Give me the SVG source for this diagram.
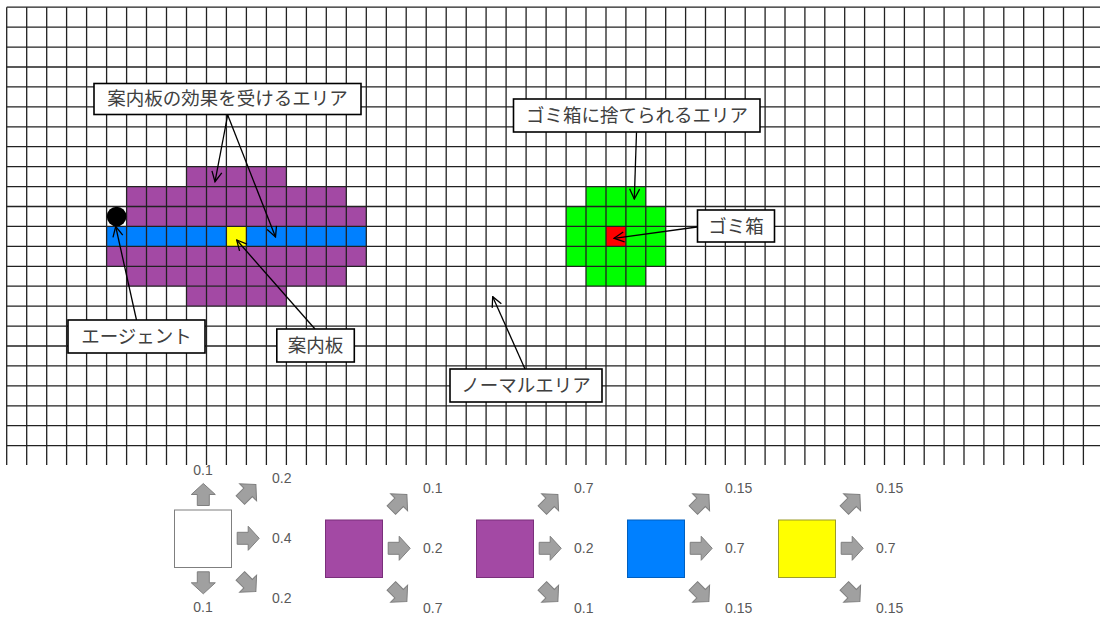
<svg xmlns="http://www.w3.org/2000/svg" xmlns:xlink="http://www.w3.org/1999/xlink" width="1100" height="619" viewBox="0 0 1100 619">
<style>
.grid{fill:none;stroke:#222;stroke-width:1.3}
.purple{fill:#A349A4}
.blue{fill:#0080FF}
.yellow{fill:#FFFF00}
.green{fill:#00FF00}
.red{fill:#FF0000}
.box{fill:#fff;stroke:#000;stroke-width:1.6}
.lbl{font-family:"Noto Sans CJK JP","Noto Sans CJK SC",sans-serif;font-size:18.5px;fill:#404040;text-anchor:middle}
.conn{fill:none;stroke:#000;stroke-width:1.3}
.num{font-family:"Liberation Sans",Arial,sans-serif;font-size:14px;fill:#595959}
.mid{text-anchor:middle}
.barrow{fill:#A0A0A0;stroke:#7F7F7F;stroke-width:1}
</style>
<defs>
<marker id="open" viewBox="-11 -6 12 12" refX="0" refY="0" markerWidth="12" markerHeight="12" markerUnits="userSpaceOnUse" orient="auto">
<path d="M-10,-5L0,0L-10,5" fill="none" stroke="#000" stroke-width="1.3"/>
</marker>
<path id="barrow" class="barrow" d="M-11,-6H0V-12L11,0L0,12V6H-11Z"/>
</defs>
<rect width="1100" height="619" fill="#fff"/>
<g id="cells">
<rect class="purple" x="186.5" y="166.6" width="99.9" height="20"/>
<rect class="purple" x="126.6" y="186.6" width="219.7" height="19.9"/>
<rect class="purple" x="126.6" y="206.5" width="239.7" height="19.9"/>
<rect class="purple" x="106.6" y="246.4" width="259.7" height="19.9"/>
<rect class="purple" x="126.6" y="266.3" width="219.7" height="19.9"/>
<rect class="purple" x="186.5" y="286.2" width="99.9" height="20"/>
<rect class="blue" x="106.6" y="226.4" width="259.7" height="20"/>
<rect class="yellow" x="226.4" y="226.4" width="20" height="20"/>
<rect class="green" x="586.0" y="186.6" width="59.8" height="19.9"/>
<rect class="green" x="566.1" y="206.5" width="99.6" height="59.8"/>
<rect class="green" x="586.0" y="266.3" width="59.8" height="19.9"/>
<rect class="red" x="606.0" y="226.4" width="19.9" height="20"/>
</g>
<g id="grid">
<path class="grid" d="M6.7,7.2V465M26.7,7.2V465M46.7,7.2V465M66.6,7.2V465M86.6,7.2V465M106.6,7.2V465M126.6,7.2V465M146.5,7.2V465M166.5,7.2V465M186.5,7.2V465M206.5,7.2V465M226.4,7.2V465M246.4,7.2V465M266.4,7.2V465M286.4,7.2V465M306.4,7.2V465M326.3,7.2V465M346.3,7.2V465M366.3,7.2V465M386.3,7.2V465M406.2,7.2V465M426.2,7.2V465M446.2,7.2V465M466.2,7.2V465M486.1,7.2V465M506.1,7.2V465M526.1,7.2V465M546.1,7.2V465M566.1,7.2V465M586.0,7.2V465M606.0,7.2V465M625.9,7.2V465M645.8,7.2V465M665.7,7.2V465M685.6,7.2V465M705.5,7.2V465M725.3,7.2V465M745.2,7.2V465M765.1,7.2V465M785.0,7.2V465M804.9,7.2V465M824.8,7.2V465M844.7,7.2V465M864.6,7.2V465M884.5,7.2V465M904.4,7.2V465M924.2,7.2V465M944.1,7.2V465M964.0,7.2V465M983.9,7.2V465M1003.8,7.2V465M1023.7,7.2V465M1043.6,7.2V465M1063.5,7.2V465M1083.4,7.2V465"/>
<path class="grid" d="M6.7,7.2H1100M6.7,27.1H1100M6.7,47.1H1100M6.7,67.0H1100M6.7,86.9H1100M6.7,106.9H1100M6.7,126.8H1100M6.7,146.7H1100M6.7,166.6H1100M6.7,186.6H1100M6.7,206.5H1100M6.7,226.4H1100M6.7,246.4H1100M6.7,266.3H1100M6.7,286.2H1100M6.7,306.2H1100M6.7,326.1H1100M6.7,346.0H1100M6.7,365.9H1100M6.7,385.9H1100M6.7,405.8H1100M6.7,425.7H1100M6.7,445.7H1100"/>
</g>
<g id="agent"><circle cx="116.6" cy="216.5" r="9.8" fill="#000"/></g>
<g id="connectors">
<line class="conn" x1="227.7" y1="115" x2="215" y2="181.7" marker-end="url(#open)"/>
<line class="conn" x1="227.7" y1="115" x2="275.5" y2="237" marker-end="url(#open)"/>
<line class="conn" x1="636.5" y1="132.3" x2="634.3" y2="199" marker-end="url(#open)"/>
<line class="conn" x1="697" y1="227" x2="614" y2="238.3" marker-end="url(#open)"/>
<line class="conn" x1="136.5" y1="320" x2="115.7" y2="226.5" marker-end="url(#open)"/>
<line class="conn" x1="315" y1="329" x2="236.7" y2="240" marker-end="url(#open)"/>
<line class="conn" x1="525" y1="369" x2="492.7" y2="296.7" marker-end="url(#open)"/>
</g>
<g id="label-sign-area"><rect class="box" x="94" y="83.5" width="267" height="31"/><text class="lbl" x="227.5" y="105">案内板の効果を受けるエリア</text></g>
<g id="label-trash-area"><rect class="box" x="513.5" y="99" width="246.5" height="33"/><text class="lbl" x="637" y="121.8">ゴミ箱に捨てられるエリア</text></g>
<g id="label-trash"><rect class="box" x="697.5" y="210" width="77" height="32"/><text class="lbl" x="736" y="232.5">ゴミ箱</text></g>
<g id="label-agent"><rect class="box" x="68" y="320" width="137" height="33"/><text class="lbl" x="136.5" y="342.8">エージェント</text></g>
<g id="label-sign"><rect class="box" x="276.8" y="329" width="77.5" height="33"/><text class="lbl" x="315.5" y="351.8">案内板</text></g>
<g id="label-normal"><rect class="box" x="450" y="369" width="152" height="33"/><text class="lbl" x="526" y="391.8">ノーマルエリア</text></g>
<g id="legend-normal">
<rect x="174.5" y="510" width="57" height="57.5" fill="#fff" stroke="#7F7F7F" stroke-width="1"/>
<use href="#barrow" transform="translate(203.3,494.5) rotate(-90)"/>
<use href="#barrow" transform="translate(203.3,582.8) rotate(90)"/>
<use href="#barrow" transform="translate(248.1,492.3) rotate(-45)"/>
<use href="#barrow" transform="translate(248.2,538.3)"/>
<use href="#barrow" transform="translate(248.1,583.7) rotate(45)"/>
<text class="num mid" x="203" y="475">0.1</text>
<text class="num" x="272" y="483">0.2</text>
<text class="num" x="272" y="543">0.4</text>
<text class="num" x="272" y="603">0.2</text>
<text class="num mid" x="203" y="612">0.1</text>
</g>
<g id="legend-purple1" transform="translate(151,10)">
<rect x="174.5" y="510" width="57" height="57.5" fill="#A349A4" stroke="#7A2F7B" stroke-width="1"/>
<use href="#barrow" transform="translate(248.1,492.3) rotate(-45)"/>
<use href="#barrow" transform="translate(248.2,538.3)"/>
<use href="#barrow" transform="translate(248.1,583.7) rotate(45)"/>
<text class="num" x="272" y="482.5">0.1</text>
<text class="num" x="272" y="543">0.2</text>
<text class="num" x="272" y="603">0.7</text>
</g>
<g id="legend-purple2" transform="translate(302,10)">
<rect x="174.5" y="510" width="57" height="57.5" fill="#A349A4" stroke="#7A2F7B" stroke-width="1"/>
<use href="#barrow" transform="translate(248.1,492.3) rotate(-45)"/>
<use href="#barrow" transform="translate(248.2,538.3)"/>
<use href="#barrow" transform="translate(248.1,583.7) rotate(45)"/>
<text class="num" x="272" y="482.5">0.7</text>
<text class="num" x="272" y="543">0.2</text>
<text class="num" x="272" y="603">0.1</text>
</g>
<g id="legend-blue" transform="translate(453,10)">
<rect x="174.5" y="510" width="57" height="57.5" fill="#0080FF" stroke="#005FBF" stroke-width="1"/>
<use href="#barrow" transform="translate(248.1,492.3) rotate(-45)"/>
<use href="#barrow" transform="translate(248.2,538.3)"/>
<use href="#barrow" transform="translate(248.1,583.7) rotate(45)"/>
<text class="num" x="272" y="482.5">0.15</text>
<text class="num" x="272" y="543">0.7</text>
<text class="num" x="272" y="603">0.15</text>
</g>
<g id="legend-yellow" transform="translate(604,10)">
<rect x="174.5" y="510" width="57" height="57.5" fill="#FFFF00" stroke="#9C9C2A" stroke-width="1"/>
<use href="#barrow" transform="translate(248.1,492.3) rotate(-45)"/>
<use href="#barrow" transform="translate(248.2,538.3)"/>
<use href="#barrow" transform="translate(248.1,583.7) rotate(45)"/>
<text class="num" x="272" y="482.5">0.15</text>
<text class="num" x="272" y="543">0.7</text>
<text class="num" x="272" y="603">0.15</text>
</g>
</svg>
